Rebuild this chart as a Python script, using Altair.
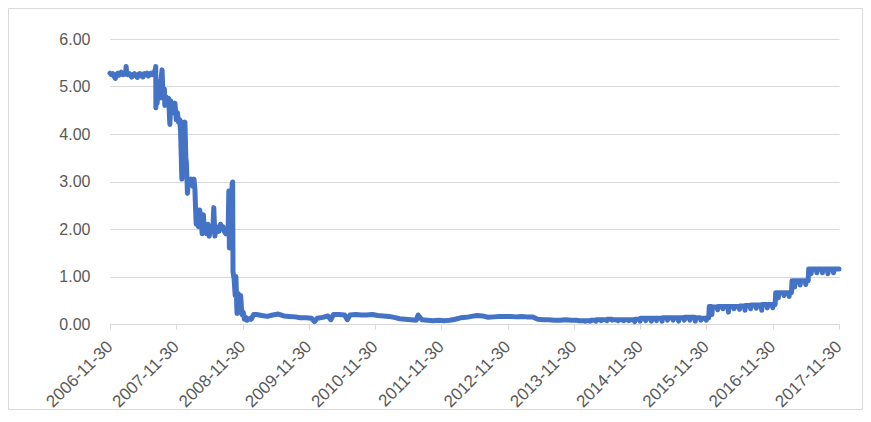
import altair as alt
import pandas as pd

# ---------------- data ----------------
# Pre-crisis plateau (2006-11-30 .. 2007-08)
A_DATES = ["2006-11-30", "2006-12-08", "2006-12-15", "2006-12-22", "2006-12-29",
           "2007-01-05", "2007-01-12", "2007-01-19", "2007-01-31", "2007-02-09",
           "2007-02-16", "2007-02-23", "2007-02-27", "2007-03-02", "2007-03-09",
           "2007-03-16", "2007-03-23", "2007-03-30", "2007-04-06", "2007-04-13",
           "2007-04-20", "2007-04-30", "2007-05-04", "2007-05-11", "2007-05-18",
           "2007-05-25", "2007-05-31", "2007-06-08", "2007-06-15", "2007-06-22",
           "2007-06-29", "2007-07-06", "2007-07-13", "2007-07-20", "2007-07-31",
           "2007-08-03"]
A_VALUES = [5.28, 5.25, 5.27, 5.22, 5.17,
            5.26, 5.28, 5.24, 5.30, 5.25,
            5.28, 5.26, 5.42, 5.28, 5.25,
            5.27, 5.24, 5.20, 5.25, 5.27,
            5.24, 5.19, 5.25, 5.27, 5.23,
            5.26, 5.20, 5.27, 5.25, 5.28,
            5.22, 5.26, 5.28, 5.25, 5.30,
            5.32]

# Crisis period (2007-08 .. 2009-01)
B_DATES = ["2007-08-08", "2007-08-09", "2007-08-10", "2007-08-14", "2007-08-17",
           "2007-08-22", "2007-08-27", "2007-08-31", "2007-09-07", "2007-09-13",
           "2007-09-19", "2007-09-26", "2007-09-28", "2007-10-05", "2007-10-12",
           "2007-10-19", "2007-10-26", "2007-10-31", "2007-11-02", "2007-11-09",
           "2007-11-16", "2007-11-23", "2007-11-30", "2007-12-07", "2007-12-12",
           "2007-12-19", "2007-12-24", "2007-12-31", "2008-01-03", "2008-01-10",
           "2008-01-17", "2008-01-22", "2008-01-25", "2008-01-31", "2008-02-05",
           "2008-02-12", "2008-02-20", "2008-02-29", "2008-03-07", "2008-03-12",
           "2008-03-14", "2008-03-19", "2008-03-26", "2008-03-31", "2008-04-07",
           "2008-04-14", "2008-04-21", "2008-04-28", "2008-05-02", "2008-05-09",
           "2008-05-16", "2008-05-23", "2008-05-30", "2008-06-06", "2008-06-13",
           "2008-06-20", "2008-06-24", "2008-06-30", "2008-07-08", "2008-07-15",
           "2008-07-22", "2008-07-31", "2008-08-07", "2008-08-14", "2008-08-21",
           "2008-08-29", "2008-09-05", "2008-09-11", "2008-09-15", "2008-09-18",
           "2008-09-23", "2008-09-30", "2008-10-03", "2008-10-06", "2008-10-08",
           "2008-10-14", "2008-10-20", "2008-10-24", "2008-10-30", "2008-11-05",
           "2008-11-12", "2008-11-19", "2008-11-26", "2008-12-03", "2008-12-10",
           "2008-12-17", "2008-12-24", "2008-12-31", "2009-01-09", "2009-01-16",
           "2009-01-30"]
B_VALUES = [5.38, 5.42, 4.55, 5.05, 4.65,
            5.10, 4.75, 4.95, 5.15, 5.35,
            4.75, 4.95, 4.60, 4.78, 4.70,
            4.75, 4.20, 4.70, 4.50, 4.55,
            4.45, 4.65, 4.30, 4.45, 4.25,
            4.30, 4.05, 3.05, 4.25, 4.20,
            4.25, 3.50, 3.40, 2.75, 3.05,
            2.95, 3.05, 2.90, 3.05, 2.85,
            2.60, 2.10, 2.40, 2.05, 2.40,
            2.25, 1.90, 2.30, 1.95, 2.05,
            1.90, 2.10, 1.85, 2.05, 1.95,
            2.10, 2.45, 1.85, 2.05, 2.00,
            1.95, 2.10, 2.00, 2.05, 1.95,
            1.90, 2.00, 1.95, 2.80, 1.60,
            2.55, 2.20, 2.95, 2.99, 1.10,
            0.95, 0.60, 1.00, 0.22, 0.65,
            0.35, 0.60, 0.20, 0.25, 0.10,
            0.14, 0.08, 0.10, 0.12, 0.10,
            0.20]

# Near-zero period, one reading per month (2009-02 .. 2013-12), mid-month
ZLB_FIRST_MONTH = "2009-02"
ZLB_VALUES = [0.20, 0.18, 0.16, 0.19, 0.21, 0.17, 0.16, 0.15, 0.13, 0.13, 0.12,
              0.12, 0.14, 0.17, 0.20, 0.20, 0.19, 0.19, 0.20, 0.19, 0.19, 0.20, 0.18,
              0.17, 0.16, 0.14, 0.11, 0.10, 0.09, 0.08, 0.09, 0.08, 0.07, 0.08, 0.07,
              0.08, 0.10, 0.13, 0.14, 0.16, 0.18, 0.17, 0.14, 0.15, 0.16, 0.16, 0.16,
              0.15, 0.16, 0.15, 0.15, 0.10, 0.09, 0.09, 0.08, 0.08, 0.09, 0.08, 0.08]
ZLB_EXTRA_DATES = ["2009-12-31", "2010-03-31", "2010-06-30", "2011-07-25"]
ZLB_EXTRA_VALUES = [0.05, 0.09, 0.09, 0.19]

# Lift-off period (2014-01 .. 2017-11): first half of month, second half, month end
T_FIRST_MONTH = "2014-01"
T_EARLY = [0.07, 0.07, 0.08, 0.09, 0.09, 0.10, 0.09, 0.09, 0.09, 0.09, 0.10, 0.12,
           0.12, 0.12, 0.12, 0.13, 0.13, 0.13, 0.13, 0.14, 0.14, 0.13, 0.12, 0.13,
           0.36, 0.37, 0.37, 0.37, 0.37, 0.38, 0.39, 0.40, 0.40, 0.41, 0.41, 0.41,
           0.66, 0.66, 0.66, 0.91, 0.91, 0.91, 1.16, 1.16, 1.16, 1.16, 1.16]
T_LATE = [0.07, 0.07, 0.08, 0.09, 0.09, 0.10, 0.09, 0.09, 0.09, 0.09, 0.10, 0.12,
          0.12, 0.12, 0.12, 0.13, 0.13, 0.13, 0.13, 0.14, 0.14, 0.13, 0.12, 0.37,
          0.36, 0.37, 0.37, 0.37, 0.37, 0.38, 0.39, 0.40, 0.40, 0.41, 0.41, 0.66,
          0.66, 0.66, 0.91, 0.91, 0.91, 1.16, 1.16, 1.16, 1.16, 1.16, 1.16]
T_END = [0.06, 0.06, 0.06, 0.07, 0.07, 0.08, 0.07, 0.07, 0.07, 0.05, 0.06, 0.07,
         0.06, 0.07, 0.06, 0.08, 0.08, 0.06, 0.08, 0.08, 0.06, 0.08, 0.08, 0.20,
         0.30, 0.32, 0.25, 0.32, 0.31, 0.29, 0.32, 0.33, 0.29, 0.34, 0.34, 0.55,
         0.60, 0.58, 0.78, 0.82, 0.83, 1.06, 1.08, 1.08, 1.06, 1.08, 1.16]

X_TICKS = ["2006-11-30", "2007-11-30", "2008-11-30", "2009-11-30", "2010-11-30",
           "2011-11-30", "2012-11-30", "2013-11-30", "2014-11-30", "2015-11-30",
           "2016-11-30", "2017-11-30"]
Y_TICKS = [0, 1, 2, 3, 4, 5, 6]

# ---------------- build table ----------------
rows = []
for d, v in zip(A_DATES + B_DATES + ZLB_EXTRA_DATES, A_VALUES + B_VALUES + ZLB_EXTRA_VALUES):
    rows.append((pd.Timestamp(d), v))
for p, v in zip(pd.period_range(ZLB_FIRST_MONTH, periods=len(ZLB_VALUES), freq="M"), ZLB_VALUES):
    rows.append((p.start_time + pd.Timedelta(days=14), v))
for p, e, l, m in zip(pd.period_range(T_FIRST_MONTH, periods=len(T_EARLY), freq="M"),
                      T_EARLY, T_LATE, T_END):
    s = p.start_time
    rows.append((s + pd.Timedelta(days=1), e))
    rows.append((s + pd.Timedelta(days=12), e))
    rows.append((s + pd.Timedelta(days=15), l))
    rows.append((s + pd.Timedelta(days=26), l))
    rows.append((p.end_time.normalize(), m))

df = pd.DataFrame(rows, columns=["date", "rate"]).sort_values("date")
df["date"] = df["date"].dt.strftime("%Y-%m-%d")

def ms(d):
    return int(pd.Timestamp(d).value // 10**6)

tick_ms = [ms(d) for d in X_TICKS]

W, H = 729, 285
PAD = {"left": 102, "top": 31, "right": 24, "bottom": 86}
GREY = "#D9D9D9"
TXT = "#595959"
FONT = "Liberation Sans"

line = alt.Chart(df).mark_line(color="#4472C4", strokeWidth=5, strokeJoin="round",
                               strokeCap="round").encode(
    x=alt.X("date:T",
            scale=alt.Scale(type="utc", domain=[tick_ms[0], tick_ms[-1]]),
            axis=alt.Axis(values=tick_ms,
                          labelExpr="utcFormat(datum.value, '%Y-%m-%d')",
                          labelAngle=-45, labelFontSize=17, labelColor=TXT,
                          labelFont=FONT, labelPadding=9, labelOffset=-6,
                          tickSize=5, tickColor=GREY, domainColor=GREY,
                          grid=False, title=None, labelOverlap=False)),
    y=alt.Y("rate:Q",
            scale=alt.Scale(domain=[0, 6], nice=False, zero=True),
            axis=alt.Axis(values=Y_TICKS, format=".2f", labelFontSize=16,
                          labelColor=TXT, labelFont=FONT, labelPadding=20,
                          ticks=False, domain=False, gridColor=GREY,
                          title=None)),
)

border = alt.Chart(alt.Data(values=[{}])).mark_rect(
    fillOpacity=0, stroke=GREY, strokeWidth=1).encode(
    x=alt.value(-PAD["left"] + 0.5),
    x2=alt.value(W + PAD["right"] - 0.5),
    y=alt.value(-PAD["top"] + 0.5),
    y2=alt.value(H + PAD["bottom"] - 0.5),
)

chart = alt.layer(border, line).properties(
    width=W, height=H,
    autosize=alt.AutoSizeParams(type="none"),
    padding=PAD,
    background="white",
).configure_view(stroke=None)

chart.save("out.html", embed_options={"renderer": "svg", "actions": False})
